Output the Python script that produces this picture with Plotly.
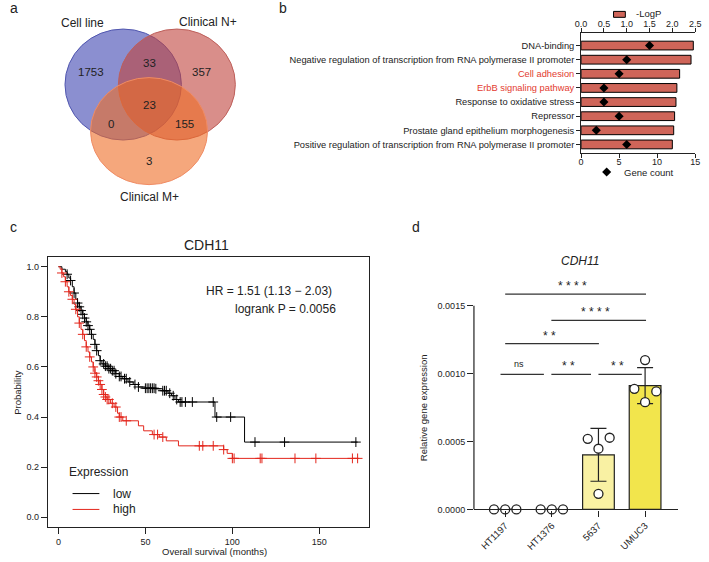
import numpy as np
import plotly.graph_objects as go

W, H = 709, 562
FONT = "Liberation Sans, Arial, Helvetica, sans-serif"
TXT = "#222222"

# ---------------- data ----------------
# Panel a: Venn
venn_set_names = ["Cell line", "Clinical N+", "Clinical M+"]
venn_region_keys = ["A", "AB", "B", "ABC", "AC", "BC", "C"]
venn_region_counts = [1753, 33, 357, 23, 0, 155, 3]

# Panel b: GO terms
go_terms = [
    "DNA-binding",
    "Negative regulation of transcription from RNA polymerase II promoter",
    "Cell adhesion",
    "ErbB signaling pathway",
    "Response to oxidative stress",
    "Repressor",
    "Prostate gland epithelium morphogenesis",
    "Positive regulation of transcription from RNA polymerase II promoter",
]
go_neglogp = [2.46, 2.41, 2.16, 2.10, 2.08, 2.05, 2.03, 2.00]
go_gene_count = [9, 6, 5, 3, 3, 5, 2, 6]
go_highlight = [False, False, True, True, False, False, False, False]

# Panel c: Kaplan-Meier (step points and censor times)
km_low_time = [0, 2, 4, 5, 6, 7, 8, 9, 10, 11, 12, 13, 14, 15, 16, 17, 18, 19, 20, 21,
               22, 23, 24, 25, 27, 29, 31, 33, 35, 37, 40, 43, 46, 50, 56, 60, 63, 65,
               67, 69, 90, 107, 172]
km_low_surv = [1.0, 0.99, 0.98, 0.97, 0.955, 0.945, 0.92, 0.895, 0.87, 0.855, 0.84, 0.825,
               0.81, 0.795, 0.78, 0.765, 0.75, 0.73, 0.71, 0.69, 0.665, 0.645, 0.625, 0.612,
               0.603, 0.593, 0.585, 0.573, 0.562, 0.553, 0.54, 0.53, 0.52, 0.515, 0.513,
               0.505, 0.495, 0.485, 0.47, 0.46, 0.40, 0.30, 0.30]
km_low_censor = [5, 7, 9, 11, 12, 13, 14, 15, 16, 17, 18, 19, 21, 22, 24, 26, 27, 28, 29, 30,
                 31, 32, 33, 35, 36, 38, 39, 41, 44, 46, 50, 51, 52, 53, 54, 55, 56, 60, 61,
                 62, 64, 66, 68, 70, 71, 73, 77, 89, 91, 99, 113, 130, 171]
km_high_time = [0, 1, 2, 3, 4, 5, 6, 7, 8, 9, 10, 11, 12, 13, 14, 15, 16, 17, 18, 19, 20,
                21, 22, 23, 24, 25, 26, 27, 28, 30, 32, 34, 35, 37, 46, 49, 54, 58, 62, 69,
                95, 97, 100, 173]
km_high_surv = [1.0, 0.99, 0.975, 0.96, 0.94, 0.92, 0.90, 0.885, 0.87, 0.85, 0.83, 0.80,
                0.775, 0.75, 0.73, 0.705, 0.68, 0.66, 0.64, 0.62, 0.60, 0.575, 0.56, 0.545,
                0.53, 0.51, 0.49, 0.48, 0.47, 0.455, 0.44, 0.415, 0.40, 0.385, 0.365, 0.345,
                0.33, 0.32, 0.305, 0.285, 0.27, 0.255, 0.235, 0.235]
km_high_censor = [2, 4, 6, 8, 10, 12, 14, 16, 18, 20, 21, 22, 23, 24, 25, 26, 27, 28, 29, 31,
                  33, 35, 36, 39, 55, 57, 60, 81, 83, 89, 95, 100, 101, 116, 117, 136, 148,
                  169, 172]

# Panel d: relative expression
cell_lines = ["HT1197", "HT1376", "5637", "UMUC3"]
rep_values = [
    [0.0, 0.0, 0.0],
    [0.0, 0.0, 0.0],
    [0.00052, 0.000528, 0.000447, 0.000115],
    [0.0011, 0.000888, 0.000869, 0.00079],
]
sig_pairs = [(0, 1), (1, 2), (2, 3), (0, 2), (1, 3), (0, 3)]
sig_labels = ["ns", "**", "**", "**", "****", "****"]

# ---------------- layout helpers / styles ----------------
def dom_x(a, b):
    return [a / W, b / W]

def dom_y(top, bottom):
    return [1 - bottom / H, 1 - top / H]

fig = go.Figure()
shapes = []
ann = []

def text(x, y, s, size, xanchor="center", yanchor="middle", color=TXT, angle=0, italic=False):
    ann.append(dict(x=x, y=y, xref="x", yref="y", text=s, showarrow=False,
                    xanchor=xanchor, yanchor=yanchor, textangle=angle,
                    font=dict(family=FONT, size=size, color=color,
                              style="italic" if italic else "normal")))

# ---------- Panel a: Venn (canvas axes in pixel units) ----------
venn_geom = [  # cx, cy, rx, ry, fill, line
    (119.2, 85.3, 59.2, 56.0, "rgba(62,68,177,0.6)", "rgba(80,86,175,1)"),
    (173.8, 85.3, 59.5, 56.0, "rgba(192,67,60,0.6)", "rgba(190,95,90,1)"),
    (145.5, 132.3, 59.5, 54.0, "rgba(238,108,37,0.6)", "rgba(240,140,100,1)"),
]
for cx, cy, rx, ry, fc, lc in venn_geom:
    shapes.append(dict(type="circle", xref="x", yref="y", x0=cx - rx, x1=cx + rx,
                       y0=cy - ry, y1=cy + ry, fillcolor=fc, line=dict(color=lc, width=1),
                       layer="above"))
venn_label_pos = [(78.3, 23.3), (205.7, 21.7), (145.7, 199)]
for name, (x, y) in zip(venn_set_names, venn_label_pos):
    text(x, y, name, 12)
venn_region_pos = {"A": (86.7, 72.7), "AB": (145.7, 63.3), "B": (199, 72.7),
                   "ABC": (145.7, 106), "AC": (106.7, 125), "BC": (181.7, 125),
                   "C": (145.7, 162.3)}
for k, c in zip(venn_region_keys, venn_region_counts):
    x, y = venn_region_pos[k]
    text(x, y, str(c), 11.5)

# panel letters
for s, (x, y) in zip("abcd", [(2, 8), (276, 8), (2, 229), (411, 229)]):
    text(x, y, s, 14, xanchor="left")

# ---------- Panel b ----------
BAR_RED = "#cf6559"
ypos = list(range(len(go_terms)))
ticktext_b = [f"<span style='color:#e33b2f'>{t}</span>" if h else t
              for t, h in zip(go_terms, go_highlight)]
fig.add_trace(go.Bar(x=go_neglogp, y=ypos, orientation="h", xaxis="x2", yaxis="y2",
                     width=0.62, marker=dict(color=BAR_RED, line=dict(color="black", width=1)),
                     showlegend=False))
fig.add_trace(go.Scatter(x=go_gene_count, y=ypos, xaxis="x3", yaxis="y2", mode="markers",
                         marker=dict(symbol="diamond", size=7, color="black"),
                         showlegend=False))
# legends for panel b
shapes.append(dict(type="rect", xref="x", yref="y", x0=618, x1=630, y0=11.5, y1=17.5,
                   fillcolor=BAR_RED, line=dict(color="black", width=1), layer="above"))
text(639, 14, "-LogP", 9.5, xanchor="left")
fig.add_trace(go.Scatter(x=[611], y=[173.5], xaxis="x", yaxis="y", mode="markers",
                         marker=dict(symbol="diamond", size=7, color="black"),
                         showlegend=False, cliponaxis=False))
text(626.7, 174, "Gene count", 9.5, xanchor="left")

# ---------- Panel c ----------
def step_at(times, surv, t):
    i = np.searchsorted(np.array(times), t, side="right") - 1
    return np.array(surv)[i]

for tt, ss, cens, col in [(km_low_time, km_low_surv, km_low_censor, "black"),
                          (km_high_time, km_high_surv, km_high_censor, "#e3261c")]:
    fig.add_trace(go.Scatter(x=tt, y=ss, xaxis="x4", yaxis="y4", mode="lines",
                             line=dict(color=col, width=1, shape="hv"), showlegend=False))
    fig.add_trace(go.Scatter(x=cens, y=step_at(tt, ss, cens), xaxis="x4", yaxis="y4",
                             mode="markers", showlegend=False,
                             marker=dict(symbol="cross-thin", size=7,
                                         line=dict(color=col, width=1))))
text(333.3, 294, "HR = 1.51 (1.13 \u2212 2.03)", 12, xanchor="right")
text(337.7, 311.7, "logrank P = 0.0056", 12, xanchor="right")
text(204, 247, "CDH11", 14)
text(12, 395.5, "Probability", 9.5, angle=-90)
text(211.7, 556, "Overall survival (months)", 9.5)
text(62, 476.7, "Expression", 12, xanchor="left")
for lab, y, col in [("low", 498, "black"), ("high", 514, "#e3261c")]:
    shapes.append(dict(type="line", xref="x", yref="y", x0=67.7, x1=95, y0=y, y1=y,
                       line=dict(color=col, width=1), layer="above"))
    text(107.3, y, lab, 12, xanchor="left")

# ---------- Panel d ----------
means = [float(np.mean(v)) for v in rep_values]
sds = [float(np.std(v, ddof=1)) for v in rep_values]
xd = list(range(len(cell_lines)))
fig.add_trace(go.Bar(x=xd, y=means, xaxis="x5", yaxis="y5", width=0.68,
                     marker=dict(color=["#faf3b0", "#faf3b0", "#f9f1a3", "#f2e54c"],
                                 line=dict(color="#222", width=1.2)),
                     error_y=dict(type="data", array=sds, visible=True, color="#222",
                                  thickness=1.2, width=8),
                     showlegend=False))
dot_offsets = [[-0.24, 0, 0.24], [-0.24, 0, 0.24], [-0.23, 0.24, 0, 0], [0, -0.23, 0.24, 0]]
dx, dy = [], []
for i, (vals, offs) in enumerate(zip(rep_values, dot_offsets)):
    for v, o in zip(vals, offs):
        dx.append(i + o)
        dy.append(v)
fig.add_trace(go.Scatter(x=dx, y=dy, xaxis="x5", yaxis="y5", mode="markers", cliponaxis=False,
                         marker=dict(symbol="circle", size=9, color="white",
                                     line=dict(color="#222", width=1.3)),
                         showlegend=False))
bracket_x = [(-0.1, 0.83), (0.99, 1.84), (2.0, 2.93), (0.0, 2.01), (0.99, 3.02), (0.0, 3.02)]
bracket_y = [0.000995, 0.000995, 0.000995, 0.001221, 0.001392, 0.001586]
bx, by = [], []
for (x0, x1), yv in zip(bracket_x, bracket_y):
    bx += [x0, x1, None]
    by += [yv, yv, None]
fig.add_trace(go.Scatter(x=bx, y=by, xaxis="x5", yaxis="y5", mode="lines", cliponaxis=False,
                         line=dict(color="#333", width=1.2), showlegend=False))
for (x0, x1), yv, lab in zip(bracket_x, bracket_y, sig_labels):
    is_ns = lab == "ns"
    ann.append(dict(x=(x0 + x1) / 2 - 0.06, y=yv, xref="x5", yref="y5",
                    text=lab if is_ns else " ".join(lab), showarrow=False,
                    xanchor="center", yanchor="bottom", yshift=3 if is_ns else -1,
                    font=dict(family=FONT, size=9 if is_ns else 12, color=TXT)))
shapes.append(dict(type="line", xref="x5 domain", yref="y5", x0=0, x1=0, y0=0, y1=0.0015,
                   line=dict(color="#222", width=1.2), layer="above"))
text(584, 263, "CDH11", 12, italic=True)
text(425, 411, "Relative gene expression", 9.5, angle=-90)

axis_common = dict(showgrid=False, zeroline=False, linecolor="#222", tickcolor="#222",
                   tickfont=dict(family=FONT, size=9, color=TXT))

fig.update_layout(
    width=W, height=H, margin=dict(l=0, r=0, t=0, b=0),
    paper_bgcolor="white", plot_bgcolor="rgba(0,0,0,0)",
    showlegend=False,
    xaxis=dict(domain=[0, 1], range=[0, W], visible=False, fixedrange=True),
    yaxis=dict(domain=[0, 1], range=[H, 0], visible=False, fixedrange=True),
    xaxis2=dict(axis_common, domain=dom_x(585, 701), range=[0, 2.5], side="top", anchor="y2",
                tickvals=[0, 0.5, 1, 1.5, 2, 2.5], tickformat=".1f", ticks="outside",
                ticklen=4, showline=True, linewidth=1, ticklabelstandoff=-3),
    xaxis3=dict(axis_common, range=[0, 15], overlaying="x2", side="bottom", anchor="y2",
                tickvals=[0, 5, 10, 15], ticks="outside", ticklen=4, showline=True,
                linewidth=1, ticklabelstandoff=-3),
    yaxis2=dict(axis_common, domain=dom_y(33, 154), range=[7.58, -0.91], anchor="x2",
                tickvals=ypos, ticktext=ticktext_b, ticks="outside", ticklen=4,
                showline=True, linewidth=1,
                tickfont=dict(family=FONT, size=9.3, color=TXT)),
    xaxis4=dict(axis_common, domain=dom_x(42.7, 369), range=[-6, 178.4], anchor="y4",
                tickvals=[0, 50, 100, 150], ticks="outside", ticklen=6, showline=True,
                linewidth=1.2, mirror=True),
    yaxis4=dict(axis_common, domain=dom_y(259, 532), range=[-0.04, 1.04], anchor="x4",
                tickvals=[0, 0.2, 0.4, 0.6, 0.8, 1.0], tickformat=".1f", ticks="outside",
                ticklen=6, showline=True, linewidth=1.2, mirror=True),
    xaxis5=dict(axis_common, domain=dom_x(476, 683.3), range=[-0.67, 3.70], anchor="y5",
                tickvals=xd, ticktext=cell_lines, tickangle=-45, ticks="outside",
                ticklen=6, showline=True, linewidth=1.2,
                tickfont=dict(family=FONT, size=9.5, color=TXT)),
    yaxis5=dict(axis_common, domain=dom_y(280, 514), range=[0, 0.001708], anchor="x5",
                tickvals=[0, 0.0005, 0.001, 0.0015], tickformat=".4f", ticks="outside",
                ticklen=6, showline=False, tickwidth=1.2),
    shapes=shapes, annotations=ann,
)

fig.write_html("out.html")
